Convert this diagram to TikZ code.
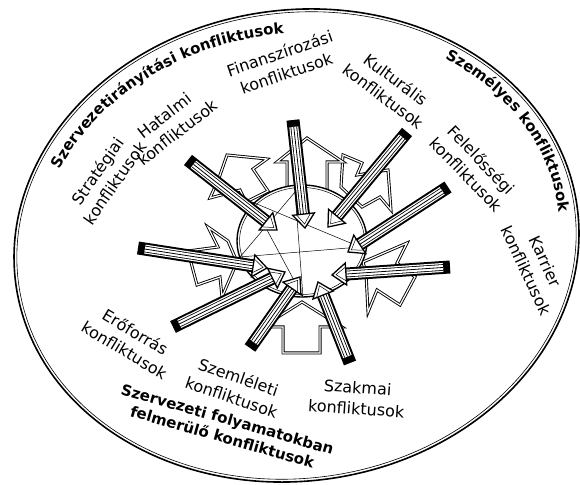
\documentclass[tikz,border=0pt]{standalone}
\usepackage{fontspec}
\setmainfont{DejaVu Sans}
\usetikzlibrary{calc, decorations.text, shapes.geometric}

\newcommand{\outlblfont}{\bfseries\fontsize{15}{18.5}\selectfont}
% one striped bar: #1 outer (capped) end, #2 tip
\newcommand{\stripebar}[2]{%
  \coordinate (hb) at ($(#2)!14pt!(#1)$);
  \draw[line width=13pt] (#1) -- (hb);
  \draw[white, line width=9pt] ($(#1)!7pt!(#2)$) -- (hb);
  \draw[line width=6.6pt] ($(#1)!7pt!(#2)$) -- (hb);
  \draw[white, line width=5pt] ($(#1)!7pt!(#2)$) -- (hb);
  \draw[line width=0.8pt] ($(#1)!7pt!(#2)$) -- (hb);
  \draw[line width=1.3pt, fill=white, line join=miter]
    ($(hb)!11pt!90:(#2)$) -- (#2) -- ($(hb)!11pt!-90:(#2)$) -- cycle;
  \draw[line width=0.5pt]
    ($(hb)!7pt!90:(#2)$) -- ($(#2)!4pt!(hb)$) -- ($(hb)!7pt!-90:(#2)$);
}

\tikzset{
  hollow/.style={draw, line width=0.9pt, double=white, double distance=1.2pt, line join=miter, fill=white},
  inlabel/.style={align=center, inner sep=0pt, font=\fontsize{16}{21}\selectfont},
  outlabel/.style={align=center, inner sep=0pt, font=\outlblfont},
  arclabel/.style={decorate, decoration={text along path, text align=center, text={|\outlblfont|#1}}}
}

\begin{document}
\begin{tikzpicture}[x=1pt, y=1pt]
  \useasboundingbox (0,0) rectangle (580,484);

  % outer ellipse with the two curved group names
  \begin{scope}[shift={(296.5,238.5)}, rotate=8]
    \draw[line width=1.6pt] (0,0) ellipse [x radius=283.3, y radius=235.5];
    \draw[line width=0.6pt] (0,0) ellipse [x radius=280.5, y radius=232.7];
    \path[arclabel={Szervezetirányítási konfliktusok}]
      (152:260 and 212) arc[start angle=152, end angle=84, x radius=260, y radius=212];
    \path[arclabel={Személyes konfliktusok}]
      (52:265 and 217) arc[start angle=52, end angle=-4, x radius=265, y radius=217];
  \end{scope}

  % zigzag arrows
  \draw[hollow] (363,222) -- (407,241) -- (397,221) -- (415,207) -- (400,179) -- (377,194) -- (368,172) -- (366,211) -- cycle;
  \draw[hollow] (343,329) -- (362,321) -- (357,309) -- (388,314) -- (391,274) -- (380,287) -- (362,277) -- (341,297) -- cycle;
  \draw[hollow] (227,329) -- (267,325) -- (253,315) -- (268,293) -- (246,282) -- (240,294) -- (210,286) -- (219,306) -- cycle;
  \draw[hollow] (208,257) -- (218,237) -- (188,233) -- (197,199) -- (220,207) -- (222,187) -- (237,222) -- (228,243) -- cycle;

  % block arrows up and down
  \draw[hollow] (287,285) -- (287,322) -- (277,322) -- (307,346) -- (343,322) -- (327,322) -- (327,285) -- cycle;
  \draw[hollow] (283,131) -- (283,157) -- (262,157) -- (302,182) -- (342,157) -- (320,157) -- (320,131) -- cycle;

  % inner circle
  \node[draw, line width=1.4pt, fill=white, ellipse, minimum width=130pt, minimum height=112pt, inner sep=0pt] (core) at (302,243) {};
  \draw[line width=0.5pt] (core.center) ellipse [x radius=62.5, y radius=53.5];

  % star inside
  \foreach \n/\p in {p1/{295,292}, p2/{252,282}, p3/{240,227}, p4/{303,187}, p5/{360,237}}
    \coordinate (\n) at (\p);
  \draw[line width=0.5pt] (p1) -- (p3) -- (p5) -- (p2) -- (p4) -- cycle;

  % striped bars
  \foreach \i/\c/\t in {1/{293,364}/{305,256}, 2/{188,324}/{277,254}, 3/{407,352}/{328,257},
                        4/{448,297}/{348,232}, 5/{450,217}/{332,209}, 6/{138,236}/{267,216},
                        7/{173,157}/{285,212}, 8/{250,136}/{300,207}, 9/{350,121}/{318,202}} {
    \coordinate (bc\i) at (\c);
    \coordinate (bt\i) at (\t);
  }
  \foreach \i in {1,...,9} {\stripebar{bc\i}{bt\i}}

  % labels
  \node[inlabel, rotate=55] (strat) at (106,307) {Stratégiai\\konfliktusok};
  \node[inlabel, rotate=38] (hatalmi) at (171,360) {Hatalmi\\konfliktusok};
  \node[inlabel, rotate=19] (finansz) at (283,421) {Finanszírozási\\konfliktusok};
  \node[inlabel, rotate=-37] (kult) at (390,396) {Kulturális\\konfliktusok};
  \node[inlabel, rotate=-46] (felel) at (474,317) {Felelősségi\\konfliktusok};
  \node[inlabel, rotate=-65] (karrier) at (536,218) {Karrier\\konfliktusok};
  \node[inlabel, rotate=-31] (eroforras) at (130,143) {Erőforrás\\konfliktusok};
  \node[inlabel, rotate=-19] (szemleleti) at (235,97) {Szemléleti\\konfliktusok};
  \node[inlabel, rotate=-4] (szakmai) at (357,86) {Szakmai\\konfliktusok};
  \node[outlabel, rotate=-16] (folyamat) at (225,56) {Szervezeti folyamatokban\\felmerülő konfliktusok};
\end{tikzpicture}
\end{document}
